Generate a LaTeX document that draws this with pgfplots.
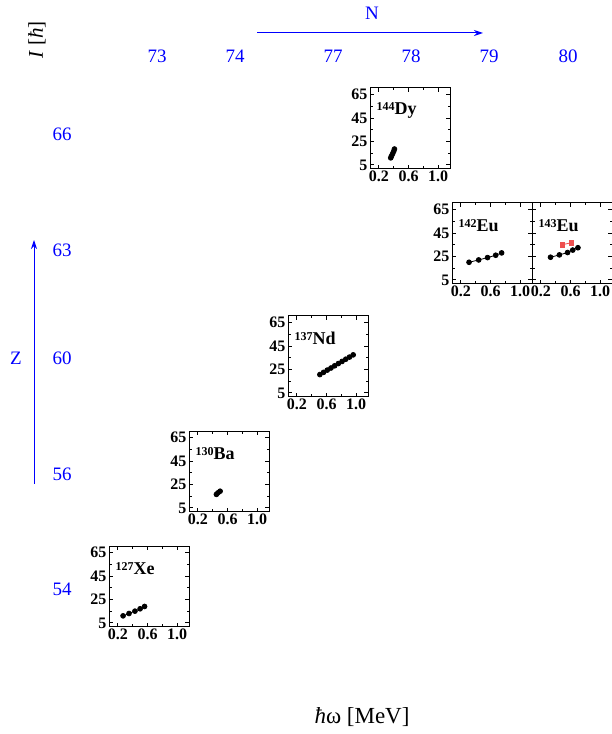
\documentclass[border=0pt]{standalone}
\usepackage{pgfplots}
\pgfplotsset{compat=1.18}
\usetikzlibrary{arrows.meta}
\usepackage{fontspec}
\setmainfont{Liberation Serif}

\definecolor{nzblue}{RGB}{0,0,255}
\definecolor{bandred}{RGB}{238,80,80}

\newcommand\tickfont{\fontsize{16}{16}\selectfont\bfseries}
\newcommand\nucfont{\fontsize{18}{18}\selectfont\bfseries}
\newcommand\supfont{\fontsize{12}{12}\selectfont\bfseries}
\newcommand\gridfont{\fontsize{19}{19}\selectfont}

\pgfplotsset{
  panel/.style={
    anchor=south west,
    scale only axis,
    width=80pt, height=81pt,
    xmin=0.08, xmax=1.16,
    ymin=1.5, ymax=70.5,
    xtick={0.2,0.6,1.0},
    ytick={5,25,45,65},
    minor xtick={0.4,0.8},
    minor ytick={15,35,55},
    major tick length=4pt,
    minor tick length=2.5pt,
    tick style={black, line width=0.8pt},
    axis line style={black, line width=1pt},
    tick label style={font=\tickfont},
    xticklabel style={inner sep=1.5pt},
    yticklabel style={inner sep=2.5pt},
    /pgf/number format/assume math mode=true,
    xticklabel style={/pgf/number format/.cd, fixed, fixed zerofill, precision=1},
    clip=false,
  },
  band/.style={black, line width=0.8pt, mark=*, mark size=2.4pt, mark options={solid, fill=black}},
  bandB/.style={bandred, line width=0.8pt, mark=square*, mark size=2.3pt, mark options={solid, fill=bandred}},
}

\newcommand\nuc[2]{\node[anchor=west, inner sep=0pt] at (rel axis cs:0.08,0.72) {\nucfont\raisebox{0.55ex}{\supfont #1}#2};}

\begin{document}
\begin{tikzpicture}[x=1pt, y=1pt]
\useasboundingbox (0pt,0pt) rectangle (611pt,734pt);

% neutron number labels along the top
\foreach \n/\xx in {73/157, 74/235, 77/333, 78/411, 79/489, 80/568}
  \node[text=nzblue, font=\gridfont] at (\xx pt,678pt) {\n};
\draw[nzblue, line width=1pt, -{Stealth[length=9pt, width=6pt]}] (257pt,701pt) -- (483pt,701pt);
\node[text=nzblue, font=\gridfont] at (372pt,721pt) {N};

% proton number labels along the left
\foreach \z/\yy in {54/145, 56/260, 60/376, 63/484, 66/600}
  \node[text=nzblue, font=\gridfont] at (62pt,\yy pt) {\z};
\draw[nzblue, line width=1pt, -{Stealth[length=9pt, width=6pt]}] (34pt,250pt) -- (34pt,494pt);
\node[text=nzblue, font=\gridfont] at (16pt,376pt) {Z};

% global axis labels
\node[rotate=90, font=\fontsize{21}{21}\selectfont] at (37pt,694pt) {\textit{I} [\textit{ħ}]};
\node[font=\fontsize{23}{23}\selectfont] at (362pt,17pt) {\textit{ħ}ω [MeV]};

% 127Xe  (N=73, Z=54)
\begin{axis}[panel, at={(109pt,107pt)}]
\addplot[band] coordinates {(0.27,11) (0.35,13) (0.43,15) (0.50,17) (0.56,19)};
\nuc{127}{Xe}
\end{axis}

% 130Ba  (N=74, Z=56)
\begin{axis}[panel, at={(189pt,222pt)}]
\addplot[band] coordinates {(0.45,16.5) (0.47,17.8) (0.50,19.2)};
\nuc{130}{Ba}
\end{axis}

% 137Nd  (N=77, Z=60)
\begin{axis}[panel, at={(288pt,337pt)}]
\addplot[band] coordinates {(0.51,20.6) (0.56,22.5) (0.61,24.4) (0.66,26.2) (0.71,28.1) (0.76,30.0) (0.81,31.8) (0.86,33.7) (0.91,35.5) (0.96,37.4)};
\nuc{137}{Nd}
\end{axis}

% 144Dy  (N=78, Z=66)
\begin{axis}[panel, at={(370pt,565pt)}]
\addplot[band] coordinates {(0.36,11) (0.37,12.5) (0.385,14.5) (0.40,16.5) (0.41,18.5)};
\nuc{144}{Dy}
\end{axis}

% 142Eu  (N=79, Z=63)
\begin{axis}[panel, at={(452pt,450pt)}]
\addplot[band] coordinates {(0.31,20) (0.44,22) (0.56,24) (0.67,26) (0.75,28)};
\nuc{142}{Eu}
\end{axis}

% 143Eu  (N=80, Z=63)
\begin{axis}[panel, at={(532pt,450pt)}, yticklabels={}]
\addplot[band] coordinates {(0.33,24.3) (0.45,26.3) (0.56,28.3) (0.63,30.4) (0.70,32.4)};
\addplot[bandB] coordinates {(0.49,35) (0.61,36.6)};
\nuc{143}{Eu}
\end{axis}
\end{tikzpicture}
\end{document}
